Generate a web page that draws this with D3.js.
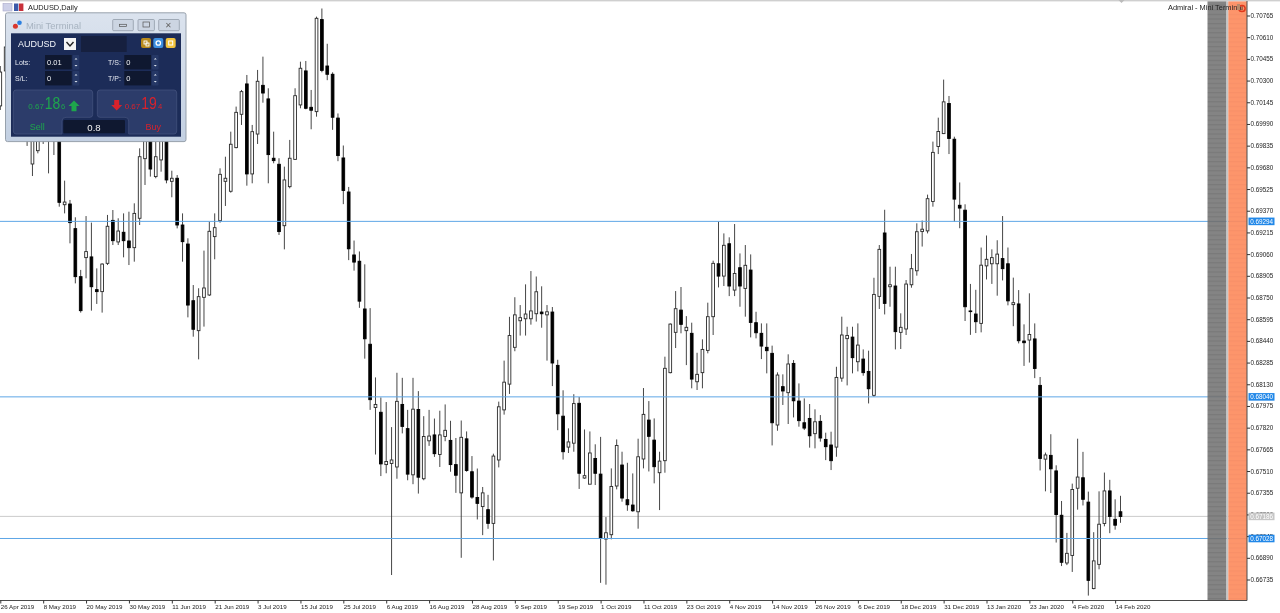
<!DOCTYPE html>
<html><head><meta charset="utf-8">
<script src="https://cdn.jsdelivr.net/npm/d3@7/dist/d3.min.js"></script>
<style>
html,body{margin:0;padding:0;background:#fff;overflow:hidden}
svg{display:block;filter:blur(0.25px)}
text{font-family:"Liberation Sans",Arial,sans-serif}
</style></head><body>
<svg id="c" width="1280" height="613"></svg>
<script>
// Daily candles, prices in 1e-5 units
const opens=[70119,70369,70376,70090,70161,70054,69704,69799,70019,70126,
69890,69983,69413,69418,69242,68899,69035,69040,68806,68792,
68994,69301,69147,69216,69154,69106,69316,69742,69880,69614,
69733,69876,69580,69602,69268,69132,68727,68513,68751,68768,
69185,69299,69580,69509,69821,70059,70276,69633,69918,70266,
70169,69745,69702,69263,69542,69737,70126,70369,70109,70078,
70736,70404,70345,70032,69747,69504,69054,69009,68668,68416,
67964,67930,67556,67564,67539,67986,67813,67483,67950,67455,
67726,67768,67628,67757,67729,67556,67354,67740,67505,67321,
67256,67234,67136,67589,67947,68131,68394,68584,68598,68598,
68634,68646,68626,68646,68265,67902,67681,67709,67994,67460,
67416,67600,67488,67024,67055,67403,67553,67305,67267,67219,
67596,67874,67731,67498,67584,68213,68501,68660,68513,68494,
68148,68213,68372,68613,68991,68903,69134,68803,68963,68815,
68946,68570,68494,68394,68351,67839,68113,68070,68279,68010,
67855,67886,67777,67865,67736,67696,67681,68174,68456,68467,
68291,68310,68222,68051,68758,69211,68827,68832,68501,68525,
68841,68941,69221,69226,69436,69829,69921,70136,69881,69409,
69374,68654,68632,68565,68976,68991,68991,69028,68991,68699,
68704,68439,68446,68454,68122,67595,67622,67511,67194,66853,
66907,67387,67462,67288,66670,66843,67135,67368,67165,67219];
const closes=[70361,70540,70161,70304,69983,69911,69947,69983,69890,69911,
70161,69430,69432,69285,68899,68656,69078,68827,68792,68989,
69259,69156,69225,69156,69106,69351,69756,69876,69668,69756,
69876,69590,69602,69268,69149,68696,68523,68756,68818,69223,
69249,69630,69602,69845,70073,70221,69633,69935,70295,70211,
69771,69728,69221,69590,69745,70192,70388,70102,70088,70745,
70373,70345,70038,69764,69515,69098,69003,68724,68455,68020,
67986,67561,67578,67589,68008,67829,67488,67952,67466,67757,
67760,67634,67768,67801,67556,67480,67751,67514,67324,67279,
67354,67136,67617,67969,68145,68478,68626,68606,68632,68654,
68791,68634,68648,68282,67919,67648,67718,67992,67494,67477,
67639,67494,67030,67069,67400,67693,67317,67269,67226,67612,
67915,67758,67541,67581,68244,68560,68670,68558,68537,68167,
68201,68379,68613,68994,68903,69123,68832,68922,68832,68980,
68572,68498,68403,68370,67855,68196,68082,68275,68012,67870,
67817,67762,67862,67746,67684,67584,68179,68482,68479,68320,
68410,68213,68098,68772,69094,68708,68841,68506,68537,68846,
68956,69220,69238,69456,69787,69936,70148,69886,69453,69389,
68684,68649,68577,68981,69023,69035,69060,68956,68726,68713,
68441,68427,68486,68243,67600,67625,67526,67199,66858,66922,
67378,67467,67308,66729,66868,67130,67368,67185,67123,67185];
const highs=[70404,70590,70447,70376,70233,70126,70019,70054,70090,70197,
70233,70054,69585,69447,69323,68947,69332,69285,68958,68994,
69340,69375,69316,69351,69363,69423,69816,69911,69899,69864,
69899,69899,69656,69625,69351,69173,68839,68816,69085,69292,
69351,69673,69756,69935,70114,70233,70340,69983,70376,70471,
70245,69935,69745,69685,69876,70245,70435,70440,70233,70757,
70815,70563,70359,70065,69836,69540,69157,69079,68987,68674,
68179,68036,68003,67824,68212,68176,67947,68176,68081,67902,
67947,67885,67941,67986,67869,67746,67871,67793,67617,67528,
67396,67340,67634,68006,68299,68612,68752,68696,68844,68939,
68900,68830,68696,68682,68305,68087,67815,68059,68039,67807,
67793,67701,67754,67181,67529,67736,67648,67569,67493,67741,
68103,68010,67886,67648,68327,68565,68796,68825,68617,68570,
68355,68451,68713,69013,69292,69208,69180,69275,69065,69125,
69058,68648,68565,68565,68406,68215,68201,68344,68303,68136,
68029,67989,67951,67910,67784,67791,68255,68613,68541,68541,
68565,68379,68370,68891,69125,69377,68970,68970,68637,68875,
69061,69280,69300,69485,69864,70035,70307,70190,69899,69572,
69416,68847,68805,69107,69193,69094,69159,69332,69107,68892,
68803,68558,68780,68565,68182,67642,67773,67551,67296,67068,
67420,67741,67647,67363,67073,67365,67499,67447,67308,67333];
const lows=[70090,70319,70090,70033,69947,69833,69618,69780,69847,69637,
69768,69399,69351,69137,68851,68642,68887,68656,68704,68642,
68982,69125,69125,69037,68982,69006,69268,69554,69614,69602,
69649,69566,69466,69244,69006,68608,68470,68308,68542,68761,
69023,69285,69404,69499,69816,69983,69549,69566,69847,70142,
69566,69709,69197,69094,69530,69733,70102,70095,69952,70042,
70359,70303,69948,69724,69417,69017,68942,68676,68313,67947,
67628,67474,67494,66767,67455,67779,67444,67416,67349,67444,
67690,67611,67539,67723,67505,67354,66890,67505,67312,67164,
67052,67097,66871,67536,67913,68061,68366,68478,68478,68556,
68578,68534,68299,68117,67802,67592,67639,67648,67382,67455,
67416,67410,66711,66698,67022,67379,67291,67226,67219,67098,
67529,67507,67422,67231,67498,68208,68389,68494,68267,68101,
68089,68101,68351,68482,68822,68832,68760,68760,68684,68613,
68465,68458,68310,68208,67693,67798,67982,67846,67893,67827,
67803,67677,67672,67720,67588,67517,67612,68148,68122,68208,
68222,68191,67993,68041,68668,68629,68684,68379,68382,68482,
68820,68906,69114,69208,69399,69775,69918,69775,69292,69245,
68582,68483,68496,68501,68879,68847,68763,68872,68694,68545,
68422,68261,68285,68174,67514,67365,67353,66999,66831,66838,
66789,67234,67264,66620,66665,66808,67115,67066,67091,67140];
const dateLabels=["26 Apr 2019","8 May 2019","20 May 2019","30 May 2019","11 Jun 2019","21 Jun 2019","3 Jul 2019","15 Jul 2019","25 Jul 2019","6 Aug 2019","16 Aug 2019","28 Aug 2019","9 Sep 2019","19 Sep 2019","1 Oct 2019","11 Oct 2019","23 Oct 2019","4 Nov 2019","14 Nov 2019","26 Nov 2019","6 Dec 2019","18 Dec 2019","31 Dec 2019","13 Jan 2020","23 Jan 2020","4 Feb 2020","14 Feb 2020"];
const priceTicks=[0.70765,0.70610,0.70455,0.70300,0.70145,0.69990,0.69835,0.69680,0.69525,0.69370,0.69215,0.69060,0.68905,0.68750,0.68595,0.68440,0.68285,0.68130,0.67975,0.67820,0.67665,0.67510,0.67355,0.67200,0.67045,0.66890,0.66735];
const levelLines=[0.69294,0.68040,0.67028];
const bidLine=[0.67186];

const svg=d3.select("#c");
const x=d3.scaleLinear().domain([0,209]).range([0.3,1120.5]);
const y=d3.scaleLinear().domain([0.70765,0.66735]).range([15.5,579.5]);
const yp=v=>y(v/1e5);
const axisX=1247, axisY=600.5;

// top frame line
svg.append("rect").attr("x",0).attr("y",0).attr("width",1280).attr("height",1.4).attr("fill","#cfcfcf");
svg.append("path").attr("d","M1118.5 0L1124.5 0L1121.5 3Z").attr("fill","#bbb");

// level lines
svg.append("g").selectAll("line").data(bidLine).join("line")
 .attr("x1",0).attr("x2",axisX).attr("y1",d=>y(d)).attr("y2",d=>y(d)).attr("stroke","#cbcbcb").attr("stroke-width",1);

// candles
const bars=svg.append("g").selectAll("g").data(d3.range(opens.length)).join("g");
bars.append("line").attr("x1",i=>x(i)).attr("x2",i=>x(i))
 .attr("y1",i=>yp(highs[i])).attr("y2",i=>yp(lows[i])).attr("stroke","#3c3c3c").attr("stroke-width",0.95);
bars.append("rect").attr("x",i=>x(i)-1.35).attr("width",2.7)
 .attr("y",i=>yp(Math.max(opens[i],closes[i])))
 .attr("height",i=>Math.max(0.6,Math.abs(yp(opens[i])-yp(closes[i]))))
 .attr("fill",i=>closes[i]>opens[i]?"#fff":"#000")
 .attr("stroke",i=>closes[i]>opens[i]?"#2a2a2a":"#000").attr("stroke-width",0.9);

svg.append("g").selectAll("line").data(levelLines).join("line")
 .attr("x1",0).attr("x2",axisX).attr("y1",d=>y(d)).attr("y2",d=>y(d)).attr("stroke","#5ea6e6").attr("stroke-width",1);

// right-hand strips
const defs=svg.append("defs");
const pat=(id,a,b)=>{const p=defs.append("pattern").attr("id",id).attr("patternUnits","userSpaceOnUse").attr("width",6).attr("height",4.6);
 p.append("rect").attr("width",6).attr("height",4.6).attr("fill",a);
 p.append("rect").attr("width",6).attr("height",1.2).attr("fill",b);};
pat("pg","#7b7b7b","#6f6f6f");pat("po","#fd8f63","#f78a60");
svg.append("rect").attr("x",1207.5).attr("y",1.4).attr("width",19).attr("height",axisY-1.4).attr("fill","url(#pg)").attr("opacity",0.93);
svg.append("rect").attr("x",1226.5).attr("y",1.4).attr("width",1.8).attr("height",axisY-1.4).attr("fill","#c6c6c6");
svg.append("rect").attr("x",1228.3).attr("y",1.4).attr("width",18.7).attr("height",axisY-1.4).attr("fill","url(#po)").attr("opacity",0.95);

// axes
const gy=svg.append("g").attr("transform",`translate(${axisX},0)`)
 .call(d3.axisRight(y).tickValues(priceTicks).tickSize(3).tickPadding(0.5).tickFormat(d3.format(".5f")));
gy.select(".domain").attr("d",`M0,1V${axisY}`).attr("stroke","#4a4a4a");
gy.selectAll("line").attr("stroke","#333");
gy.selectAll("text").attr("font-size",6.3).attr("font-family","Liberation Sans").attr("fill","#222");
const tickIdx=dateLabels.map((_,k)=>k*8);
const gx=svg.append("g").attr("transform",`translate(0,${axisY})`)
 .call(d3.axisBottom(x).tickValues(tickIdx).tickSize(3).tickPadding(1.5).tickFormat((d,k)=>dateLabels[k]));
gx.select(".domain").attr("d",`M0,0H${axisX}`).attr("stroke","#4a4a4a");
gx.selectAll("line").attr("stroke","#333");
gx.selectAll("text").attr("text-anchor","start").attr("font-size",6.2).attr("font-family","Liberation Sans").attr("fill","#222").attr("dx",0);

// price labels on axis
const tag=(v,fill)=>{const g=svg.append("g");
 g.append("rect").attr("x",1248.5).attr("y",y(v)-3.8).attr("width",26).attr("height",7.6).attr("fill",fill);
 g.append("text").attr("x",1250.3).attr("y",y(v)+2.3).attr("font-size",6.3).attr("fill","#fff").text(v.toFixed(5));};
levelLines.forEach(v=>tag(v,"#2288e8"));
bidLine.forEach(v=>tag(v,"#c6c6c6"));

// header text
svg.append("text").attr("x",28).attr("y",9.8).attr("font-size",7.4).attr("fill","#222").text("AUDUSD,Daily");
svg.append("rect").attr("x",3).attr("y",3.5).attr("width",9).attr("height",7.5).attr("fill","#cdd0e8").attr("stroke","#a9a9c9").attr("stroke-width",.6);
svg.append("rect").attr("x",14).attr("y",3.5).attr("width",4.4).attr("height",7.5).attr("fill","#3c5aa8");
svg.append("rect").attr("x",19).attr("y",3.5).attr("width",4.4).attr("height",7.5).attr("fill","#c8303a");
svg.append("text").attr("x",1168).attr("y",10).attr("font-size",7.4).attr("fill","#222").text("Admiral - Mini Terminal");
svg.append("circle").attr("cx",1242).attr("cy",8.5).attr("r",3.1).attr("fill","none").attr("stroke","#e0381c").attr("stroke-width",1.5);
svg.append("rect").attr("x",1237).attr("y",4).attr("width",3).attr("height",6).attr("fill","#b98a6a");

// Mini Terminal panel
const P=svg.append("g");
const R=(x0,y0,w,h,f,o={})=>P.append("rect").attr("x",x0).attr("y",y0).attr("width",w).attr("height",h).attr("fill",f)
  .attr("rx",o.r||0).attr("stroke",o.s||"none").attr("stroke-width",o.sw||0.7);
const T=(x0,y0,s,t,f,o={})=>{const e=P.append("text").attr("x",x0).attr("y",y0).attr("font-size",s).attr("fill",f)
  .attr("text-anchor",o.a||"start").attr("font-weight",o.w||"normal").text(t);
  if(o.len)e.attr("textLength",o.len).attr("lengthAdjust","spacingAndGlyphs");return e;};
const grad=defs.append("linearGradient").attr("id","fr").attr("x1",0).attr("y1",0).attr("x2",0).attr("y2",1);
grad.append("stop").attr("offset",0).attr("stop-color","#dbe3ee");
grad.append("stop").attr("offset",1).attr("stop-color","#c3d0e2");
R(5.5,12.8,180.5,128.8,"url(#fr)",{r:2,s:"#8f98a4",sw:0.9});
R(11,33.3,170,103.4,"#1c2c58");
// title bar
P.append("circle").attr("cx",15.4).attr("cy",26.3).attr("r",2.5).attr("fill","#d9382e");
P.append("circle").attr("cx",19.5).attr("cy",22.7).attr("r",2.3).attr("fill","#2a7fe0");
T(26,29,9.4,"Mini Terminal","#a7b3c0");
[[112.7,20.6],[138,16.4],[158.7,20.6]].forEach(b=>R(b[0],19.5,b[1],11.2,"#ccd5e2",{s:"#8a93a0",r:1}));
R(119.5,24.3,7,2.2,"none",{s:"#555",sw:.7});
R(143,22,6.5,5,"none",{s:"#555",sw:.7});
T(168.7,28.2,8,"✕","#666",{a:"middle"});
// symbol row
T(18,47.2,9,"AUDUSD","#f2f5fa");
R(64,38,12,12,"#f4f4f4");
P.append("path").attr("d","M66.5 42L70 46L73.5 42").attr("fill","none").attr("stroke","#222").attr("stroke-width",1.4);
R(81,36,45.7,16,"#16203f");
R(141,38,10,10,"#b98a1c",{r:2});R(153.3,38,10,10,"#3d8fe0",{r:2});R(165.7,38,10,10,"#f0c23c",{r:2});
P.append("circle").attr("cx",158.3).attr("cy",43).attr("r",2.2).attr("fill","none").attr("stroke","#fff").attr("stroke-width",1.3);
R(144,41,3,3,"none",{s:"#fff",sw:.9});R(146,43,3,3,"none",{s:"#fff",sw:.9});
R(168.7,41,4,4,"none",{s:"#fff",sw:1});
// fields
const field=(lab,lx,ly,ix,iw,val)=>{T(lx,ly,7,lab,"#e4e8f0");
 R(ix,ly-10,iw,14.4,"#0f1830");T(ix+2,ly+.2,7.5,val,"#f0f2f6");
 R(ix+iw+1,ly-10,6.6,14.4,"#263866",{r:1});
 P.append("path").attr("d",`M${ix+iw+2.8} ${ly-5.4}l1.5 -1.6l1.5 1.6Z M${ix+iw+2.8} ${ly}l1.5 1.6l1.5 -1.6Z`).attr("fill","#dfe6f0");};
field("Lots:",15,65,45,26.7,"0.01");
field("T/S:",108,65,124.3,26.7,"0");
field("S/L:",15,81,45,26.7,"0");
field("T/P:",108,81,124.3,26.7,"0");
// buy/sell
const boxFill="#2c3c6a", boxLine="#46557f";
P.append("path").attr("d","M16 90H90Q92.7 90 92.7 93V114.5Q92.7 117.3 90 117.3H66Q62 117.3 62 121V134H16Q13.3 134 13.3 131V93Q13.3 90 16 90Z")
 .attr("fill",boxFill).attr("stroke",boxLine).attr("stroke-width",.7);
P.append("path").attr("d","M100 90H174Q176.7 90 176.7 93V131Q176.7 134 174 134H128.7V121Q128.7 117.3 125 117.3H100Q97.3 117.3 97.3 114.5V93Q97.3 90 100 90Z")
 .attr("fill",boxFill).attr("stroke",boxLine).attr("stroke-width",.7);
R(63.3,120,61.7,13.3,"#0f1830",{r:1});
T(94,130.8,9.6,"0.8","#f2f2f2",{a:"middle"});
const G="#1ea64c", D="#d8222c";
T(28.3,108.8,8,"0.67",G);T(44.7,109,16.5,"18",G,{len:15.5});T(61,109,7.6,"6",G);
P.append("path").attr("d","M74 100.5l5.5 5.5h-3v5.2h-5v-5.2h-3Z").attr("fill",G);
P.append("path").attr("d","M116.7 110.6l-5.5 -5.5h3v-5.2h5v5.2h3Z").attr("fill",D);
T(124.7,108.8,8,"0.67",D);T(141.3,109,16.5,"19",D,{len:15.5});T(158,108.8,7.6,"4",D);
T(37.3,130.2,9,"Sell",G,{a:"middle"});
T(153.3,130.2,9,"Buy",D,{a:"middle"});
</script></body></html>
